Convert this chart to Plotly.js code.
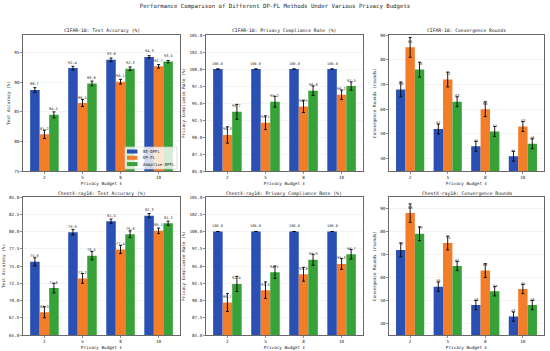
<!DOCTYPE html>
<html>
<head>
<meta charset="utf-8">
<script src="https://cdn.plot.ly/plotly-3.0.1.min.js"></script>
<style>html,body{margin:0;padding:0;background:#fff;}#chart{width:550px;height:351px;}</style>
</head>
<body>
<div id="chart"></div>
<script>
// ---------- data ----------
const budgets = ['2', '5', '8', '10'];
const methods = ['BE-DPFL', 'DP-FL', 'Adaptive-DPFL'];

const cifarAccBE = [88.7, 92.4, 93.8, 94.3];
const cifarAccDP = [81.2, 86.5, 90.1, 92.7];
const cifarAccAD = [84.5, 89.8, 92.3, 93.5];
const cifarAccErrBE = [0.4, 0.3, 0.3, 0.2];
const cifarAccErrDP = [0.7, 0.6, 0.4, 0.3];
const cifarAccErrAD = [0.5, 0.4, 0.3, 0.2];

const cifarPrivBE = [100.0, 100.0, 100.0, 100.0];
const cifarPrivDP = [90.3, 92.1, 94.5, 96.2];
const cifarPrivAD = [93.7, 95.2, 96.8, 97.5];
const cifarPrivErrBE = [0, 0, 0, 0];
const cifarPrivErrDP = [1.2, 1.0, 0.9, 0.7];
const cifarPrivErrAD = [1.1, 0.8, 0.7, 0.6];

const cifarConvBE = [68, 52, 45, 41];
const cifarConvDP = [85, 72, 60, 53];
const cifarConvAD = [76, 63, 51, 46];
const cifarConvErrBE = [3, 2, 2, 2];
const cifarConvErrDP = [4, 3, 3, 2];
const cifarConvErrAD = [3, 2, 2, 2];

const chestAccBE = [75.6, 79.9, 81.5, 82.3];
const chestAccDP = [68.3, 73.2, 77.4, 80.1];
const chestAccAD = [71.8, 76.5, 79.6, 81.2];
const chestAccErrBE = [0.6, 0.4, 0.3, 0.3];
const chestAccErrDP = [0.8, 0.7, 0.6, 0.4];
const chestAccErrAD = [0.7, 0.6, 0.5, 0.3];

const chestPrivBE = [100.0, 100.0, 100.0, 100.0];
const chestPrivDP = [89.7, 91.5, 93.8, 95.3];
const chestPrivAD = [92.4, 94.1, 95.9, 96.7];
const chestPrivErrBE = [0, 0, 0, 0];
const chestPrivErrDP = [1.3, 1.2, 1.0, 0.8];
const chestPrivErrAD = [1.1, 0.9, 0.8, 0.7];

const chestConvBE = [72, 56, 48, 43];
const chestConvDP = [88, 75, 63, 55];
const chestConvAD = [79, 65, 54, 48];
const chestConvErrBE = [3, 2, 2, 2];
const chestConvErrDP = [4, 3, 3, 2];
const chestConvErrAD = [3, 2, 2, 2];

const panelTitles = [
  'CIFAR-10: Test Accuracy (%)', 'CIFAR-10: Privacy Compliance Rate (%)', 'CIFAR-10: Convergence Rounds',
  'ChestX-ray14: Test Accuracy (%)', 'ChestX-ray14: Privacy Compliance Rate (%)', 'ChestX-ray14: Convergence Rounds'
];
const yTitles = ['Test Accuracy (%)', 'Privacy Compliance Rate (%)', 'Convergence Rounds (rounds)',
                 'Test Accuracy (%)', 'Privacy Compliance Rate (%)', 'Convergence Rounds (rounds)'];
const xTitle = 'Privacy Budget ε';
const mainTitle = 'Performance Comparison of Different DP-FL Methods Under Various Privacy Budgets';

// ---------- style ----------
const colors = ['#2a50b3', '#f47d2a', '#37a238'];
const FONT = '"DejaVu Sans Mono", "Liberation Mono", monospace';
const TXT = '#222';

const panels = [
  {vals: [cifarAccBE, cifarAccDP, cifarAccAD], errs: [cifarAccErrBE, cifarAccErrDP, cifarAccErrAD], range: [75, 98], tick0: 75, dtick: 5, fmt: '.0f', dec: 1},
  {vals: [cifarPrivBE, cifarPrivDP, cifarPrivAD], errs: [cifarPrivErrBE, cifarPrivErrDP, cifarPrivErrAD], range: [85, 105], tick0: 85, dtick: 2.5, fmt: '.1f', dec: 1},
  {vals: [cifarConvBE, cifarConvDP, cifarConvAD], errs: [cifarConvErrBE, cifarConvErrDP, cifarConvErrAD], range: [35, 90], tick0: 40, dtick: 10, fmt: '.0f', dec: 0},
  {vals: [chestAccBE, chestAccDP, chestAccAD], errs: [chestAccErrBE, chestAccErrDP, chestAccErrAD], range: [65, 85], tick0: 65, dtick: 2.5, fmt: '.1f', dec: 1},
  {vals: [chestPrivBE, chestPrivDP, chestPrivAD], errs: [chestPrivErrBE, chestPrivErrDP, chestPrivErrAD], range: [85, 105], tick0: 85, dtick: 2.5, fmt: '.1f', dec: 1},
  {vals: [chestConvBE, chestConvDP, chestConvAD], errs: [chestConvErrBE, chestConvErrDP, chestConvErrAD], range: [35, 95], tick0: 40, dtick: 10, fmt: '.0f', dec: 0}
];

const W = 550, H = 351;
const colPx = [[23, 180], [206, 363], [389, 544]];
const rowPx = [[35, 171], [197, 335]];
const titleYPx = [30, 193];

const data = [];
const layout = {
  width: W, height: H,
  margin: {l: 0, r: 0, t: 0, b: 0},
  paper_bgcolor: '#ffffff', plot_bgcolor: '#ffffff',
  barmode: 'group', bargap: 0.25, bargroupgap: 0,
  showlegend: false,
  font: {family: FONT, color: TXT, size: 4.3},
  title: {text: mainTitle, x: 0.5, xanchor: 'center', y: 1 - 6.5 / H, yanchor: 'middle', font: {family: FONT, size: 5.7, color: TXT}},
  annotations: [], shapes: []
};

panels.forEach((p, idx) => {
  const r = Math.floor(idx / 3), c = idx % 3;
  const n = idx + 1;
  const xa = 'x' + (n === 1 ? '' : n), ya = 'y' + (n === 1 ? '' : n);
  const xk = 'xaxis' + (n === 1 ? '' : n), yk = 'yaxis' + (n === 1 ? '' : n);
  methods.forEach((m, k) => {
    data.push({
      type: 'bar', name: m, x: budgets, y: p.vals[k], xaxis: xa, yaxis: ya,
      marker: {color: colors[k], line: {width: 0}},
      error_y: {type: 'data', array: p.errs[k], visible: true, color: '#000', thickness: 0.9, width: 1.5},
      offsetgroup: String(k), showlegend: false, hoverinfo: 'skip'
    });
    p.vals[k].forEach((v, i) => {
      layout.annotations.push({
        xref: xa, yref: ya, x: i + (k - 1) * 0.25, y: v, yanchor: 'bottom', xanchor: 'center', yshift: 1.5,
        text: v.toFixed(p.dec), showarrow: false, font: {family: FONT, size: 3.6, color: TXT}
      });
    });
  });
  layout[xk] = {
    domain: [colPx[c][0] / W, colPx[c][1] / W], anchor: ya,
    type: 'category', categoryarray: budgets, range: [-0.5625, 3.5625],
    showline: true, mirror: true, linecolor: '#444', linewidth: 0.8,
    ticks: 'outside', ticklen: 2, tickwidth: 0.6, tickcolor: '#444',
    showgrid: false, zeroline: false, automargin: false,
    tickfont: {family: FONT, size: 4.3, color: TXT},
    title: {text: xTitle, standoff: 2, font: {family: FONT, size: 4.3, color: TXT}}
  };
  layout[yk] = {
    domain: [1 - rowPx[r][1] / H, 1 - rowPx[r][0] / H], anchor: xa,
    range: p.range, tick0: p.tick0, dtick: p.dtick, tickformat: p.fmt,
    showline: true, mirror: true, linecolor: '#444', linewidth: 0.8,
    ticks: 'outside', ticklen: 2, tickwidth: 0.6, tickcolor: '#444',
    showgrid: true, gridcolor: '#ececec', gridwidth: 0.6, zeroline: false, automargin: false,
    tickfont: {family: FONT, size: 4.3, color: TXT},
    title: {text: yTitles[idx], standoff: 3, font: {family: FONT, size: 4.3, color: TXT}}
  };
  layout.annotations.push({
    xref: 'paper', yref: 'paper', x: (colPx[c][0] + colPx[c][1]) / 2 / W, y: 1 - titleYPx[r] / H,
    xanchor: 'center', yanchor: 'middle', showarrow: false, text: panelTitles[idx],
    font: {family: FONT, size: 4.7, color: TXT}
  });
});

// ---------- legend box (inside first panel, lower right) ----------
const lg = {x0: 125, x1: 177, y0: 147, y1: 169};
layout.shapes.push({type: 'rect', xref: 'paper', yref: 'paper', x0: lg.x0 / W, x1: lg.x1 / W, y0: 1 - lg.y1 / H, y1: 1 - lg.y0 / H,
  fillcolor: 'rgba(255,255,255,0.8)', line: {color: '#cccccc', width: 0.6}, layer: 'above'});
methods.forEach((m, k) => {
  const cy = 151.5 + k * 6.3;
  layout.shapes.push({type: 'rect', xref: 'paper', yref: 'paper', x0: 127 / W, x1: 137.5 / W, y0: 1 - (cy + 2) / H, y1: 1 - (cy - 2) / H,
    fillcolor: colors[k], line: {width: 0}, layer: 'above'});
  layout.annotations.push({xref: 'paper', yref: 'paper', x: 140.5 / W, y: 1 - cy / H, xanchor: 'left', yanchor: 'middle',
    showarrow: false, text: m, font: {family: FONT, size: 4, color: TXT}});
});

Plotly.newPlot('chart', data, layout, {displayModeBar: false, staticPlot: true});
</script>
</body>
</html>
